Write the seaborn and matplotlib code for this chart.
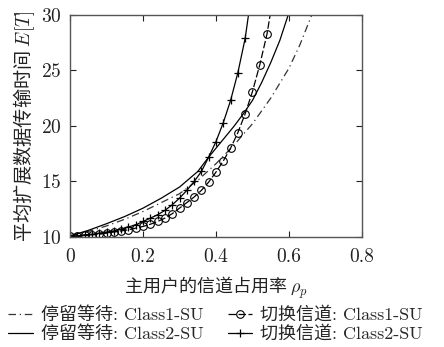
import matplotlib
matplotlib.use("Agg")
import matplotlib.pyplot as plt
import seaborn as sns
import numpy as np

# ---- data ----
stay1_x = [0, 0.05, 0.1, 0.15, 0.2, 0.25, 0.3, 0.35, 0.4, 0.45, 0.5, 0.55, 0.6, 0.63, 0.665]
stay1_y = [10.1, 10.5, 11.0, 11.6, 12.3, 13.1, 13.9, 15.1, 16.6, 18.3, 20.2, 22.5, 25.2, 27.3, 30.2]

stay2_x = [0, 0.05, 0.1, 0.15, 0.2, 0.25, 0.3, 0.35, 0.38, 0.42, 0.45, 0.475, 0.5, 0.525, 0.55, 0.575, 0.6]
stay2_y = [10.1, 10.6, 11.2, 11.85, 12.6, 13.5, 14.5, 15.9, 17.2, 18.8, 20.0, 21.1, 22.3, 23.9, 25.7, 27.7, 30.2]

sw1_x = [0, 0.02, 0.04, 0.06, 0.08, 0.10, 0.12, 0.14, 0.16, 0.18, 0.20, 0.22, 0.24, 0.26, 0.28,
         0.30, 0.32, 0.34, 0.36, 0.38, 0.40, 0.42, 0.44, 0.46, 0.48, 0.50, 0.52, 0.54, 0.549]
sw1_y = [10.05, 10.1, 10.15, 10.2, 10.25, 10.35, 10.45, 10.55, 10.65, 10.8, 10.95, 11.15, 11.4, 11.7, 12.1,
         12.6, 13.1, 13.6, 14.2, 14.95, 15.85, 16.85, 18.0, 19.4, 21.1, 23.1, 25.5, 28.3, 30.1]

sw2_x = [0, 0.02, 0.04, 0.06, 0.08, 0.10, 0.12, 0.14, 0.16, 0.18, 0.20, 0.22, 0.24, 0.26, 0.28,
         0.30, 0.32, 0.34, 0.36, 0.38, 0.40, 0.42, 0.44, 0.46, 0.48, 0.49]
sw2_y = [10.05, 10.1, 10.2, 10.25, 10.35, 10.45, 10.55, 10.7, 10.9, 11.1, 11.4, 11.7, 12.0, 12.4, 12.9,
         13.5, 14.2, 15.0, 15.9, 17.2, 18.6, 20.3, 22.3, 24.8, 27.9, 30.2]

labels = ["停留等待: Class1-SU", "停留等待: Class2-SU", "切换信道: Class1-SU", "切换信道: Class2-SU"]
xticks = [0, 0.2, 0.4, 0.6, 0.8]
xticklabels = ["0", "0.2", "0.4", "0.6", "0.8"]
yticks = [10, 15, 20, 25, 30]

# ---- style ----
sns.set_style("ticks")
plt.rcParams["font.family"] = ["cmr10", "Noto Sans CJK SC"]
plt.rcParams["mathtext.fontset"] = "cm"
plt.rcParams["axes.formatter.use_mathtext"] = True
plt.rcParams["axes.unicode_minus"] = False

fig = plt.figure(figsize=(4.44, 3.47), dpi=100)
ax = fig.add_axes([0.158, 0.317, 0.657, 0.640])

lw = 0.9
sns.lineplot(x=stay1_x, y=stay1_y, ax=ax, color="#333333", lw=lw,
             label=labels[0], linestyle=(0, (6, 3, 1, 3)), sort=False)
sns.lineplot(x=stay2_x, y=stay2_y, ax=ax, color="black", lw=lw, label=labels[1], sort=False)
sns.lineplot(x=sw1_x, y=sw1_y, ax=ax, color="black", lw=lw, label=labels[2], sort=False,
             linestyle=(0, (6, 2)), marker="o", markersize=5.5, markerfacecolor="none",
             markeredgecolor="black", markeredgewidth=0.8, markevery=slice(0, len(sw1_x) - 1))
sns.lineplot(x=sw2_x, y=sw2_y, ax=ax, color="black", lw=lw, label=labels[3], sort=False,
             marker="+", markersize=6, markeredgewidth=0.9, markeredgecolor="black",
             markevery=slice(0, len(sw2_x) - 1))

ax.set_xlim(0, 0.8)
ax.set_ylim(10, 30)
ax.set_xticks(xticks)
ax.set_yticks(yticks)
ax.set_xticklabels(xticklabels)
ax.tick_params(direction="in", top=True, right=True, length=4, width=0.8,
               labelsize=14, colors="#222222")
ax.tick_params(axis="x", pad=8)
ax.tick_params(axis="y", pad=6)
for s in ax.spines.values():
    s.set_color("#555555")
    s.set_linewidth(1.0)

ax.set_xlabel("主用户的信道占用率 $\\rho_p$", fontsize=13, labelpad=6,
              fontfamily="Noto Sans CJK SC", color="#222222")
ax.set_ylabel("平均扩展数据传输时间 $E[T]$", fontsize=13.8, labelpad=3,
              fontfamily="Noto Sans CJK SC", color="#222222")

handles, labs = ax.get_legend_handles_labels()
ax.legend(handles, labs, ncol=2, loc="upper left", bbox_to_anchor=(-0.2125, -0.312),
          frameon=False, fontsize=13, handlelength=1.35, handletextpad=0.45,
          columnspacing=1.35, labelspacing=0.12, borderaxespad=0, borderpad=0)

fig.savefig("out.png", dpi=100)
